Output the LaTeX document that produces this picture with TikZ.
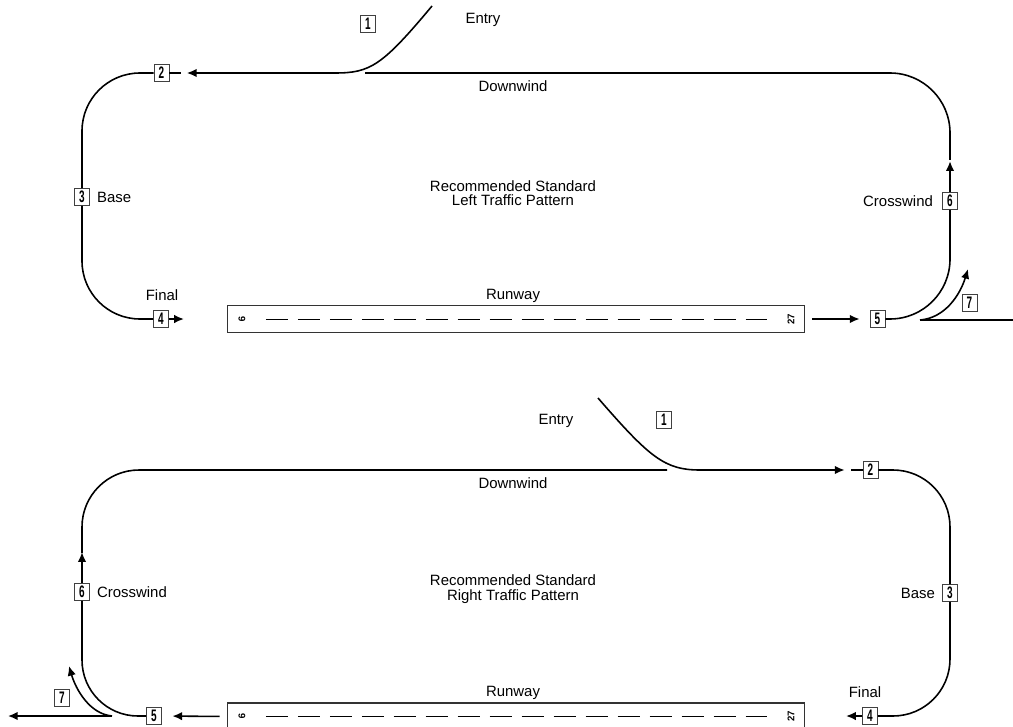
\documentclass[tikz,border=0pt]{standalone}
\usepackage{fontspec}
\setmainfont{Liberation Sans}
\usetikzlibrary{arrows.meta}
\tikzset{
	leg/.style={line width=0.9pt},
	arr/.style={leg,-{Latex[length=5.5pt,width=4.8pt]}},
	numbox/.style={draw=black!75,line width=0.5pt,inner sep=0pt,minimum width=8.5pt,minimum height=9.5pt,font=\fontsize{9.5}{9.5}\selectfont\bfseries},
	runway/.style={draw=black!80,line width=0.6pt,minimum width=11.56cm,minimum height=0.54cm},
	rwnum/.style={font=\fontsize{5.5}{5.5}\selectfont\bfseries,inner sep=0pt},
	lbl/.style={inner sep=1pt}
}
\newcommand{\nb}[1]{\scalebox{0.6}[1]{#1}}

\begin{document}
\begin{tikzpicture}[x=0.02cm,y=-0.02cm,font=\fontsize{8.5}{10}\selectfont]
\useasboundingbox (0,0) rectangle (1013,726);

\node[numbox] (t1) at (368,24) {\nb{1}};
\node[numbox] (t2) at (161.5,73) {\nb{2}};
\node[numbox] (t3) at (82,197) {\nb{3}};
\node[numbox] (t4) at (161,319) {\nb{4}};
\node[numbox] (t5) at (877.5,319) {\nb{5}};
\node[numbox] (t6) at (950,201) {\nb{6}};
\node[numbox] (t7) at (969.5,303) {\nb{7}};
\node[runway] (rwT) at (516,319) {};
\node[rwnum,rotate=-90] (n9T) at (242,319) {9};
\node[rwnum,rotate=90] (n27T) at (791,319) {27};

\node[lbl] (entryT) at (483,20) {Entry};
\node[lbl] (dwT) at (513,86) {Downwind};
\node[lbl,anchor=west] (baseT) at (95,197) {Base};
\node[lbl,anchor=east] (cwT) at (935,201) {Crosswind};
\node[lbl] (finT) at (162,295) {Final};
\node[lbl] (rwlT) at (513,296) {Runway};
\node[lbl,align=center,font=\fontsize{8.5}{8.2}\selectfont] (ctrT) at (513,193) {Recommended Standard\\Left Traffic Pattern};

\coordinate (eT) at (432,6);
\coordinate (dwT1) at (365,73);
\coordinate (dwT2) at (950,160);
\coordinate (depT) at (920,320);
\coordinate (depT1) at (1013,320);
\coordinate (depT2) at (968,269);

\draw[arr,shorten >=0.35cm] (eT) .. controls (382,66) and (370,73) .. (335,73) -- (t2);
\draw[leg] (t2.east) -- ++(12,0);
\draw[leg,rounded corners=1.16cm] (t2.west) -- (82,73) -- (t3.north);
\draw[leg,rounded corners=1.16cm] (t3.south) -- (82,319) -- (t4.west);
\draw[arr] (t4.east) -- ++(15,0);
\draw[leg,dashed,dash pattern=on 0.44cm off 0.2cm,line width=0.55pt,shorten <=0.4cm,shorten >=0.4cm] (n9T) -- (n27T);
\draw[arr,shorten <=0.14cm,shorten >=0.2cm] (rwT.east) -- (t5.west);
\draw[leg,rounded corners=1.2cm] (t5.east) -- (950,319) -- (t6.south);
\draw[arr] (t6.north) -- ++(0,-31);
\draw[leg,rounded corners=1.2cm] (dwT1) -- (950,73) -- (dwT2);
\draw[leg] (depT) -- (depT1);
\draw[arr] (depT) .. controls (945,318) and (960,295) .. (depT2);

\node[numbox] (b1) at (664,420) {\nb{1}};
\node[numbox] (b2) at (870.5,470) {\nb{2}};
\node[numbox] (b3) at (950,593) {\nb{3}};
\node[numbox] (b4) at (870,716) {\nb{4}};
\node[numbox] (b5) at (154,716) {\nb{5}};
\node[numbox] (b6) at (82,592) {\nb{6}};
\node[numbox] (b7) at (62,698) {\nb{7}};
\node[runway] (rwB) at (516,716.5) {};
\node[rwnum,rotate=-90] (n9B) at (242,716.5) {9};
\node[rwnum,rotate=90] (n27B) at (791,716.5) {27};

\node[lbl] (entryB) at (556,421) {Entry};
\node[lbl] (dwB) at (513,483) {Downwind};
\node[lbl,anchor=east] (baseB) at (937,593) {Base};
\node[lbl,anchor=west] (cwB) at (95,592) {Crosswind};
\node[lbl] (finB) at (865,692) {Final};
\node[lbl] (rwlB) at (513,693) {Runway};
\node[lbl,align=center,font=\fontsize{8.5}{8.2}\selectfont] (ctrB) at (513,589) {Recommended Standard\\Right Traffic Pattern};

\coordinate (eB) at (598,398);
\coordinate (dwB1) at (667,470);
\coordinate (dwB2) at (82,553);
\coordinate (depB) at (112,716);
\coordinate (depB1) at (8,716);
\coordinate (depB2) at (69,666);

\draw[arr,shorten >=0.36cm] (eB) .. controls (650,458) and (665,470) .. (700,470) -- (b2);
\draw[leg] (b2.west) -- ++(-12,0);
\draw[leg,rounded corners=1.14cm] (b2.east) -- (950,470) -- (b3.north);
\draw[leg,rounded corners=1.14cm] (b3.south) -- (950,716) -- (b4.east);
\draw[arr] (b4.west) -- ++(-16,0);
\draw[leg,dashed,dash pattern=on 0.44cm off 0.2cm,line width=0.55pt,shorten <=0.4cm,shorten >=0.4cm] (n9B) -- (n27B);
\draw[arr,shorten <=0.14cm,shorten >=0.21cm] (rwB.west) -- (b5.east);
\draw[leg,rounded corners=1.12cm] (b5.west) -- (82,716) -- (b6.south);
\draw[arr] (b6.north) -- ++(0,-31);
\draw[leg,rounded corners=1.14cm] (dwB1) -- (82,470) -- (dwB2);
\draw[arr] (depB) -- (depB1);
\draw[arr] (depB) .. controls (90,714) and (76,690) .. (depB2);
\end{tikzpicture}
\end{document}
